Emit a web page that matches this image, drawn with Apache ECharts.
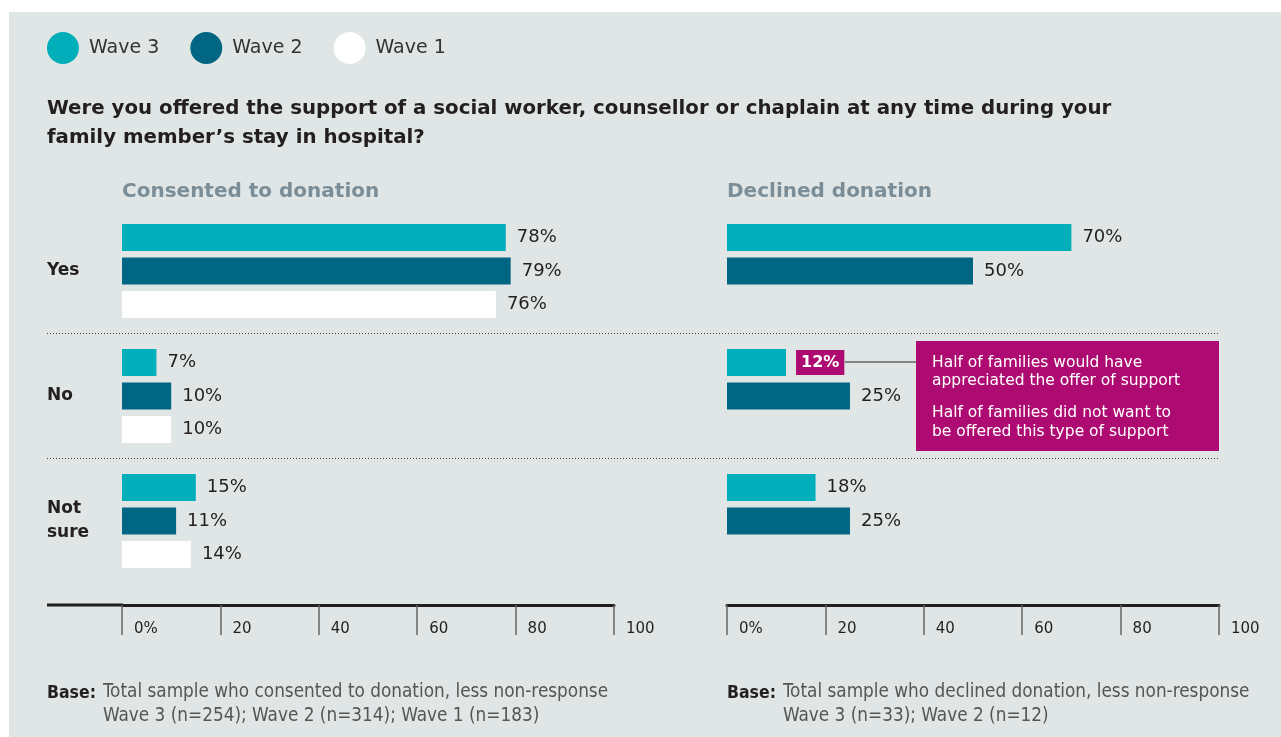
<!DOCTYPE html>
<html>
<head>
<meta charset="utf-8">
<script src="https://cdn.jsdelivr.net/npm/echarts@6/dist/echarts.min.js"></script>
<style>
  html, body { margin: 0; padding: 0; background: #ffffff; }
  #panel { position: absolute; left: 9px; top: 12px; width: 1272px; height: 725px; background: #e0e6e6; }
  #chart { position: absolute; left: 0; top: 0; width: 1281px; height: 737px; }
</style>
</head>
<body>
<div id="panel"></div>
<div id="chart"></div>
<script>
// Response categories (top to bottom)
const categories = ['Yes', 'No', 'Not sure'];
const categoryLabels = ['Yes', 'No', 'Not\nsure'];

// Consented to donation, % by wave
const consentedWave3 = [78, 7, 15];
const consentedWave2 = [79, 10, 11];
const consentedWave1 = [76, 10, 14];

// Declined donation, % by wave (no Wave 1 data)
const declinedWave3 = [70, 12, 18];
const declinedWave2 = [50, 25, 25];
const declinedWave1 = [null, null, null];

// Highlighted value: declined, Wave 3, "No"
const highlightCategory = 'No';

const xTickLabels = ['0%', '20', '40', '60', '80', '100'];

const waveNames = ['Wave 3', 'Wave 2', 'Wave 1'];
const waveColors = ['#00afba', '#006684', '#ffffff'];

const FONT = '"DejaVu Sans", sans-serif';
const FOOT_FONT = '"Liberation Sans Narrow", "DejaVu Sans Condensed", sans-serif';
const INK = '#231f20';
const MAGENTA = '#ae0b72';

const chart = echarts.init(document.getElementById('chart'), null, { renderer: 'canvas' });

function valueLabel() {
  return {
    show: true, position: 'right', distance: 11,
    formatter: p => p.value == null ? '' : p.value + '%',
    fontFamily: FONT, fontSize: 18, color: INK, padding: [2, 0, 0, 0]
  };
}

function buildData(values, highlight) {
  return values.map((v, i) => {
    if (highlight && categories[i] === highlightCategory) {
      return {
        value: v,
        label: {
          show: true, position: 'right', distance: 10,
          formatter: '{c}%',
          backgroundColor: MAGENTA, color: '#ffffff',
          fontWeight: 'bold', fontSize: 16, fontFamily: FONT,
          padding: [5, 5, 4, 5]
        }
      };
    }
    return v;
  });
}

function makeSeries(gridIdx, valuesList, highlightWave) {
  return valuesList.map((vals, k) => ({
    name: waveNames[k],
    type: 'bar',
    xAxisIndex: gridIdx,
    yAxisIndex: gridIdx,
    barWidth: 27,
    barGap: '24%',
    itemStyle: { color: waveColors[k] },
    label: valueLabel(),
    data: buildData(vals, k === highlightWave),
    animation: false
  }));
}

function xAxisCfg(gridIdx) {
  return {
    gridIndex: gridIdx, type: 'value', min: 0, max: 100, interval: 20,
    position: 'bottom', offset: 21.5,
    axisLine: { show: true, lineStyle: { color: INK, width: 3 } },
    axisTick: { show: true, length: 30, lineStyle: { color: '#666', width: 1.5 } },
    axisLabel: {
      show: true, showMinLabel: true, showMaxLabel: true,
      formatter: v => xTickLabels[Math.round(v / 20)],
      align: 'left', padding: [0, 0, 0, 12], margin: 17,
      fontFamily: FONT, fontSize: 15, color: INK
    },
    splitLine: { show: false }
  };
}

function yAxisCfg(gridIdx, showLabels) {
  return {
    gridIndex: gridIdx, type: 'category', data: categories, inverse: true,
    axisLine: { show: false }, axisTick: { show: false }, splitLine: { show: false },
    axisLabel: {
      show: showLabels, align: 'left', margin: 75, padding: [5, 0, 0, 0],
      formatter: (v, i) => categoryLabels[i],
      fontFamily: FONT, fontWeight: 'bold', fontSize: 17, lineHeight: 24, color: INK
    }
  };
}

const titleText = 'Were you offered the support of a social worker, counsellor or chaplain at any time during your\nfamily member\u2019s stay in hospital?';

const footBold = { fontFamily: FOOT_FONT, fontWeight: 'bold', fontSize: 17.5, color: INK };
const footNormal = { fontFamily: FOOT_FONT, fontWeight: 'normal', fontSize: 18.8, color: '#555555' };

function footTitle(text, left, top, style) {
  return { text, left, top, padding: 0, textStyle: style };
}

const option = {
  backgroundColor: 'transparent',
  animation: false,
  legend: {
    left: 47, top: 32, padding: 0, icon: 'circle', itemWidth: 32, itemHeight: 32, itemGap: 31,
    data: waveNames,
    selectedMode: false,
    textStyle: { fontFamily: FONT, fontSize: 19, color: '#333333', padding: [2, 0, 0, 5] }
  },
  title: [
    { text: titleText, left: 47, top: 94, padding: 0,
      textStyle: { fontFamily: FONT, fontWeight: 'bold', fontSize: 19.8, lineHeight: 29, color: INK } },
    { text: 'Consented to donation', left: 122, top: 182, padding: 0,
      textStyle: { fontFamily: FONT, fontWeight: 'bold', fontSize: 20, color: '#7b8e98' } },
    { text: 'Declined donation', left: 727, top: 182, padding: 0,
      textStyle: { fontFamily: FONT, fontWeight: 'bold', fontSize: 20, color: '#7b8e98' } },
    footTitle('Base:', 47, 684, footBold),
    footTitle('Total sample who consented to donation, less non-response', 103, 683, footNormal),
    footTitle('Wave 3 (n=254); Wave 2 (n=314); Wave 1 (n=183)', 103, 707, footNormal),
    footTitle('Base:', 727, 684, footBold),
    footTitle('Total sample who declined donation, less non-response', 783, 683, footNormal),
    footTitle('Wave 3 (n=33); Wave 2 (n=12)', 783, 707, footNormal)
  ],
  grid: [
    { left: 122, width: 492, top: 208.5, height: 375 },
    { left: 727, width: 492, top: 208.5, height: 375 }
  ],
  xAxis: [xAxisCfg(0), xAxisCfg(1)],
  yAxis: [yAxisCfg(0, true), yAxisCfg(1, false)],
  series: [
    ...makeSeries(0, [consentedWave3, consentedWave2, consentedWave1], -1),
    ...makeSeries(1, [declinedWave3, declinedWave2, declinedWave1], 0)
  ],
  graphic: [
    // dotted separators between response groups
    { type: 'line', shape: { x1: 47, y1: 333.5, x2: 1220, y2: 333.5 },
      style: { stroke: '#444', lineWidth: 1, lineDash: [1, 2] } },
    { type: 'line', shape: { x1: 47, y1: 458.5, x2: 1220, y2: 458.5 },
      style: { stroke: '#444', lineWidth: 1, lineDash: [1, 2] } },
    // axis baseline extension under the category labels
    { type: 'line', shape: { x1: 47, y1: 605, x2: 123, y2: 605 },
      style: { stroke: INK, lineWidth: 3 } },
    // callout connector and note box
    { type: 'line', shape: { x1: 845, y1: 362, x2: 916, y2: 362 },
      style: { stroke: '#666', lineWidth: 1.5 } },
    { type: 'rect', shape: { x: 916, y: 341, width: 303, height: 110 },
      style: { fill: MAGENTA } },
    { type: 'text', x: 932, y: 354,
      style: { text: 'Half of families would have\nappreciated the offer of support',
        fill: '#ffffff', font: '15.5px ' + FONT, lineHeight: 18 } },
    { type: 'text', x: 932, y: 403,
      style: { text: 'Half of families did not want to\nbe offered this type of support',
        fill: '#ffffff', font: '15.5px ' + FONT, lineHeight: 19 } }
  ]
};

chart.setOption(option);
</script>
</body>
</html>
